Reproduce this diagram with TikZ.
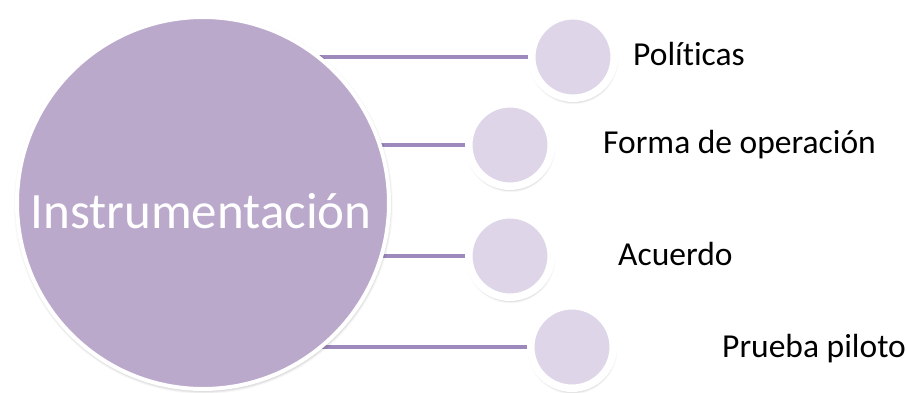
\documentclass[tikz,border=0pt]{standalone}
\usepackage{fontspec}
\setmainfont{Carlito}[Ligatures=NoCommon]
\usetikzlibrary{shadows.blur,backgrounds}
\definecolor{bigfill}{RGB}{187,169,204}
\definecolor{smallfill}{RGB}{222,214,232}
\definecolor{linkcol}{RGB}{158,137,188}
\tikzset{
  bigcircle/.style={circle, fill=bigfill, draw=white, line width=4pt, minimum size=372pt, inner sep=0pt,
    blur shadow={shadow xshift=0.5pt, shadow yshift=-1.5pt, shadow blur radius=3.5pt, shadow opacity=40}},
  smallcircle/.style={circle, fill=smallfill, draw=white, line width=7.5pt, minimum size=82.5pt, inner sep=0pt,
    blur shadow={shadow xshift=0.5pt, shadow yshift=-2.5pt, shadow blur radius=3.5pt, shadow opacity=50}},
  lbl/.style={anchor=base west, font=\fontsize{33.5}{40}\selectfont, text=black, inner sep=0pt},
  link/.style={draw=linkcol, line width=3.5pt},
}
\begin{document}
\begin{tikzpicture}[x=1pt,y=-1pt]
\useasboundingbox (0,0) rectangle (906,392);
\node[smallcircle] (s1) at (573,57) {};
\node[smallcircle] (s2) at (510,145) {};
\node[smallcircle] (s3) at (510,256) {};
\node[smallcircle] (s4) at (572,347) {};
\node[bigcircle] (big) at (203,203) {};
\begin{scope}[on background layer]
  \draw[link] (s1.center) -- (s1.center -| big.center);
  \draw[link] (s2.center) -- (s2.center -| big.center);
  \draw[link] (s3.center) -- (s3.center -| big.center);
  \draw[link] (s4.center) -- (s4.center -| big.center);
\end{scope}
\node[anchor=base, font=\fontsize{51}{60}\selectfont, text=white, inner sep=0pt] (title) at (201,228) {Instrumentación};
\node[lbl] (l1) at (633,65) {Políticas};
\node[lbl] (l2) at (603,153) {Forma de operación};
\node[lbl] (l3) at (618,265) {Acuerdo};
\node[lbl] (l4) at (722,357) {Prueba piloto};
\end{tikzpicture}
\end{document}
